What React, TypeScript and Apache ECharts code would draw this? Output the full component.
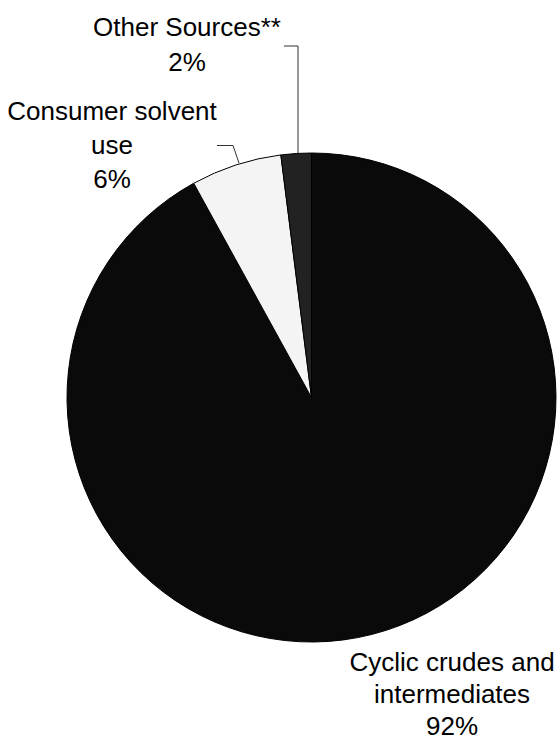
import React, { useEffect, useRef } from "react";
import * as echarts from "echarts";

const categories = ["Cyclic crudes and\nintermediates", "Consumer solvent\nuse", "Other Sources**"];
const values = [92, 6, 2];
const sliceColors = ["#0a0a0a", "#f4f4f4", "#222222"];

// label anchor (center) positions, line heights and leader-line polylines, layout only
const labelAnchors: number[][] = [
  [452, 694],
  [112, 144.5],
  [187, 44.5],
];
const labelLineHeights = [32, 34, 35];
const leaderLines: (number[][] | null)[] = [
  null,
  [[239, 163], [233, 145.5], [217, 145.5]],
  [[298, 153], [298, 46], [284, 46]],
];

export default function App() {
  const ref = useRef<HTMLDivElement>(null);
  useEffect(() => {
    if (!ref.current) return;
    const chart = echarts.init(ref.current, undefined, { renderer: "svg" });
    chart.setOption({
      animation: false,
      backgroundColor: "#ffffff",
      series: [
        {
          type: "pie",
          center: [311.5, 397.5],
          radius: 244.5,
          startAngle: 90,
          clockwise: true,
          avoidLabelOverlap: false,
          data: categories.map((c, i) => ({
            name: c,
            value: values[i],
            itemStyle: { color: sliceColors[i] },
            label: { lineHeight: labelLineHeights[i] },
            labelLine: { show: i !== 0 },
          })),
          itemStyle: { borderColor: "#000000", borderWidth: 1 },
          label: {
            show: true,
            position: "outside",
            color: "#000000",
            fontFamily: "Liberation Sans, Arial, sans-serif",
            fontSize: 26,
            align: "center",
            formatter: (p: any) => `${p.name}\n${p.value}%`,
          },
          labelLine: {
            show: true,
            lineStyle: { color: "#333333", width: 1 },
          },
          labelLayout: (params: any) => {
            const i = params.dataIndex;
            const res: any = {
              x: labelAnchors[i][0],
              y: labelAnchors[i][1],
              align: "center",
              verticalAlign: "middle",
            };
            if (leaderLines[i]) res.labelLinePoints = leaderLines[i];
            return res;
          },
          emphasis: { disabled: true },
        },
      ],
    });
    return () => chart.dispose();
  }, []);
  return (
    <div
      ref={ref}
      style={{ position: "absolute", left: 0, top: 0, width: 559, height: 740 }}
    />
  );
}
